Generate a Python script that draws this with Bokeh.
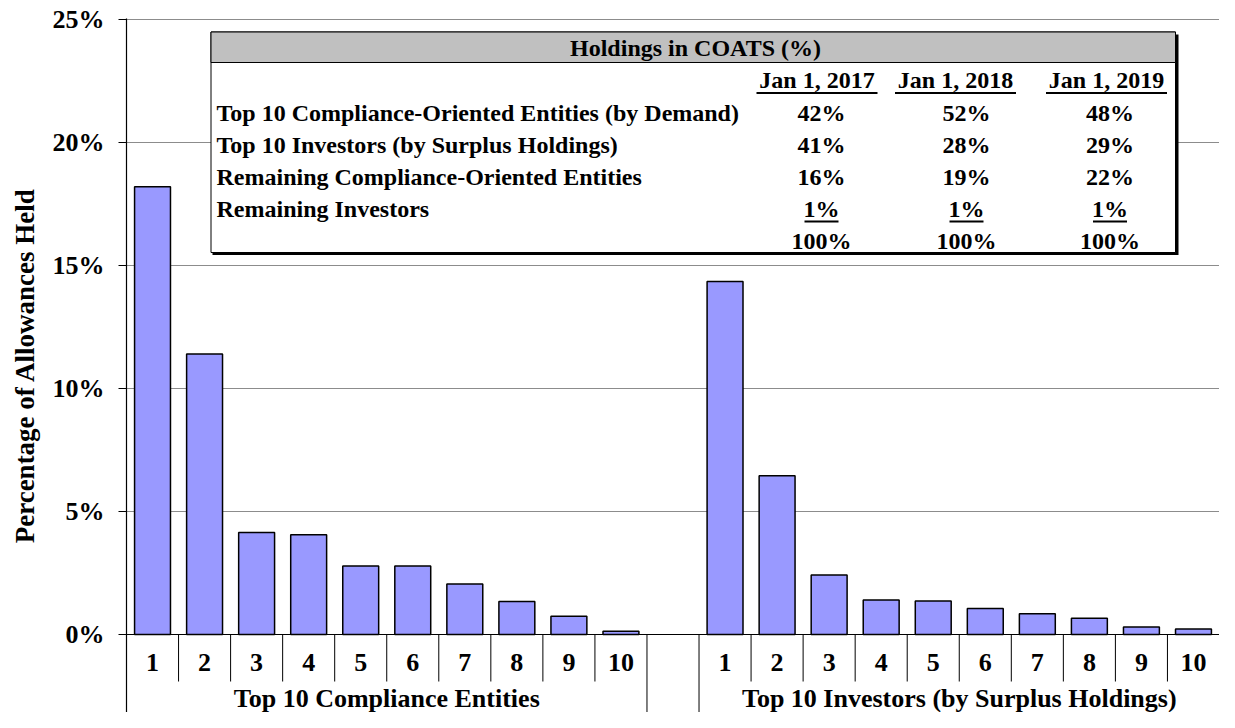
from bokeh.plotting import figure
from bokeh.models import FactorRange, Range1d, FixedTicker, PrintfTickFormatter, Span, ColumnDataSource
from bokeh.core.properties import value
from bokeh.embed import file_html
from bokeh.resources import INLINE

# ---------------- data ----------------
groups = ["Top 10 Compliance Entities", "Top 10 Investors (by Surplus Holdings)"]
ranks = ["1", "2", "3", "4", "5", "6", "7", "8", "9", "10"]
compliance_pct = [18.2, 11.4, 4.15, 4.05, 2.78, 2.78, 2.05, 1.34, 0.74, 0.13]
investor_pct = [14.35, 6.45, 2.42, 1.40, 1.36, 1.06, 0.84, 0.66, 0.30, 0.22]
y_ticks = [0, 5, 10, 15, 20, 25]
y_label = "Percentage of Allowances Held"

table_title = "Holdings in COATS (%)"
table_dates = ["Jan 1, 2017", "Jan 1, 2018", "Jan 1, 2019"]
table_rows = ["Top 10 Compliance-Oriented Entities (by Demand)",
              "Top 10 Investors (by Surplus Holdings)",
              "Remaining Compliance-Oriented Entities",
              "Remaining Investors"]
holdings_2017 = [42, 41, 16, 1]
holdings_2018 = [52, 28, 19, 1]
holdings_2019 = [48, 29, 22, 1]

# ---------------- layout helpers ----------------
FONT = value("Liberation Serif")
PX_PER_PCT = 24.6
W, H = 1219, 712
LEFT = 126
TOP = 18
N_SLOTS = 21
SLOT_PX = (W - LEFT) / N_SLOTS
frame_h = H - TOP
y_end = 25 + 1 / PX_PER_PCT
y_start = y_end - frame_h / PX_PER_PCT


def ux(px):
    # page-pixel x -> synthetic category units
    return (px - LEFT) / SLOT_PX


def vy(py):
    # page-pixel y -> percent units
    return (TOP + (y_end - 25) * PX_PER_PCT + 25 * PX_PER_PCT - py) / PX_PER_PCT


factors = [(g, r) for g in groups for r in ranks]
values = compliance_pct + investor_pct

p = figure(width=W, height=H, output_backend="svg", toolbar_location=None,
           x_range=FactorRange(factors=factors, group_padding=1.0, range_padding=0),
           y_range=Range1d(y_start, y_end),
           min_border_left=LEFT, min_border_top=TOP, min_border_right=0, min_border_bottom=0)
p.outline_line_color = None
p.background_fill_color = "white"
p.border_fill_color = "white"

# grid
p.xgrid.visible = False
p.ygrid.ticker = FixedTicker(ticks=y_ticks[1:])
p.ygrid.grid_line_color = "#8c8c8c"
p.ygrid.grid_line_width = 1

# axes
p.xaxis.visible = False
ya = p.yaxis[0]
ya.ticker = FixedTicker(ticks=y_ticks)
ya.formatter = PrintfTickFormatter(format="%d%%")
ya.major_label_text_font = "Liberation Serif"
ya.major_label_text_font_style = "bold"
ya.major_label_text_font_size = "26px"
ya.major_label_text_color = "black"
ya.major_label_standoff = 14
ya.major_tick_in = 0
ya.major_tick_out = 8
ya.major_tick_line_color = "black"
ya.minor_tick_line_color = None
ya.axis_line_color = "black"
ya.axis_line_width = 1.2
ya.axis_label = y_label
ya.axis_label_text_font = "Liberation Serif"
ya.axis_label_text_font_style = "bold"
ya.axis_label_text_font_size = "27px"
ya.axis_label_text_color = "black"
ya.axis_label_standoff = 10

# plot-area right border and zero axis
last = (groups[-1], ranks[-1], 0.5)
p.segment(x0=[last], y0=[0], x1=[last], y1=[25], line_color="#8c8c8c", line_width=1)
p.add_layout(Span(location=0, dimension="width", line_color="black", line_width=1.2))

# bars
src = ColumnDataSource(dict(x=factors, top=values))
p.vbar(x="x", top="top", width=0.69, source=src, fill_color="#9999FF",
       line_color="black", line_width=1.5)

# category separators below the axis
short_x = [(g, r, -0.5) for g in groups for r in ranks[1:]]
p.segment(x0=short_x, y0=[0] * len(short_x), x1=short_x, y1=[vy(681)] * len(short_x),
          line_color="black", line_width=1)
long_x = [(groups[0], ranks[-1], 0.5), (groups[1], ranks[0], -0.5)]
p.segment(x0=long_x, y0=[0, 0], x1=long_x, y1=[y_start, y_start],
          line_color="black", line_width=1)

# category labels
p.text(x=factors, y=[vy(662)] * len(factors), text=[f[1] for f in factors],
       text_font=FONT, text_font_style="bold", text_font_size="26px",
       text_align="center", text_baseline="middle", text_color="black")
p.text(x=groups, y=[vy(698)] * 2, text=groups,
       text_font=FONT, text_font_style="bold", text_font_size="26px",
       text_align="center", text_baseline="middle", text_color="black")

# ---------------- inset table ----------------
tl, tr, tt, tb = ux(210.5), ux(1175), vy(31.5), vy(252)
# shadow
p.quad(left=[ux(212)], right=[ux(1178)], top=[vy(34)], bottom=[vy(254.5)],
       fill_color="black", line_color=None)
p.quad(left=[tl], right=[tr], top=[tt], bottom=[tb], fill_color="white",
       line_color="black", line_width=1)
p.quad(left=[tl], right=[tr], top=[tt], bottom=[vy(62)], fill_color="#C0C0C0",
       line_color="black", line_width=1)

TFS = "24px"
p.text(x=[ux(695)], y=[vy(47)], text=[table_title], text_font=FONT, text_font_style="bold",
       text_font_size=TFS, text_align="center", text_baseline="middle", text_color="black")

date_cx = [ux(816.5), ux(955), ux(1106)]
date_hw = 60.5 / SLOT_PX
p.text(x=date_cx, y=[vy(79)] * 3, text=table_dates, text_font=FONT, text_font_style="bold",
       text_font_size=TFS, text_align="center", text_baseline="middle", text_color="black")
p.segment(x0=[c - date_hw for c in date_cx], y0=[vy(92.5)] * 3,
          x1=[c + date_hw for c in date_cx], y1=[vy(92.5)] * 3,
          line_color="black", line_width=2)

row_y = [vy(112), vy(144), vy(176), vy(208)]
p.text(x=[ux(216)] * 4, y=row_y, text=table_rows, text_font=FONT, text_font_style="bold",
       text_font_size=TFS, text_align="left", text_baseline="middle", text_color="black")

val_cx = [ux(821), ux(966), ux(1109.5)]
cols = [holdings_2017, holdings_2018, holdings_2019]
for cx, col in zip(val_cx, cols):
    p.text(x=[cx] * len(col), y=row_y, text=[f"{v}%" for v in col], text_font=FONT,
           text_font_style="bold", text_font_size=TFS, text_align="center",
           text_baseline="middle", text_color="black")
    p.text(x=[cx], y=[vy(240)], text=[f"{sum(col)}%"], text_font=FONT,
           text_font_style="bold", text_font_size=TFS, text_align="center",
           text_baseline="middle", text_color="black")
one_hw = 17 / SLOT_PX
p.segment(x0=[c - one_hw for c in val_cx], y0=[vy(221)] * 3,
          x1=[c + one_hw for c in val_cx], y1=[vy(221)] * 3,
          line_color="black", line_width=2)

open("out.html", "w").write(file_html(p, INLINE))
